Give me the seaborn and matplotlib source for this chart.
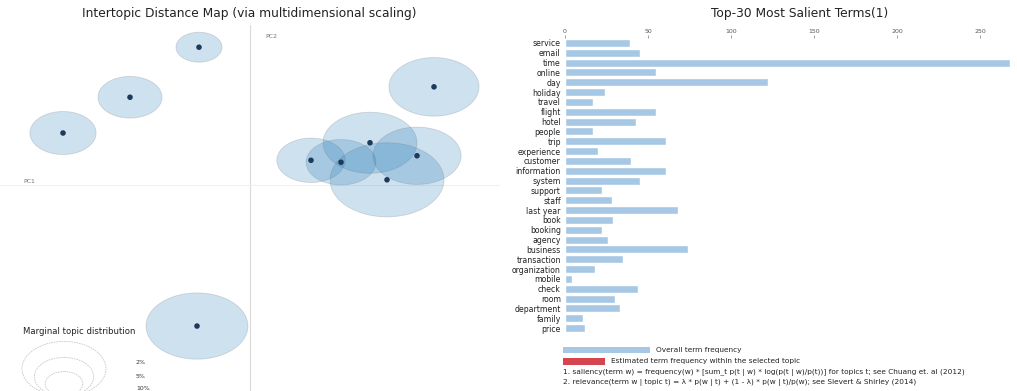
import numpy as np
import pandas as pd
import seaborn as sns
import matplotlib
matplotlib.use("Agg")
import matplotlib.pyplot as plt
from matplotlib.path import Path
from matplotlib.patches import Ellipse, Rectangle

# ---------------- data ----------------
topic_ids = [1, 2, 3, 4, 5, 6, 7, 8, 9, 10]
topic_pc1 = [-0.051, -0.120, -0.187, 0.184, 0.061, 0.091, 0.120, 0.167, 0.137, -0.053]
topic_pc2 = [0.212, 0.135, 0.080, 0.151, 0.038, 0.035, 0.065, 0.045, 0.008, -0.217]
topic_share = [3.0, 5.8, 6.2, 11.5, 6.6, 6.9, 12.5, 11.0, 18.4, 14.7]  # % of tokens

terms = ["service", "email", "time", "online", "day", "holiday", "travel", "flight",
         "hotel", "people", "trip", "experience", "customer", "information", "system",
         "support", "staff", "last year", "book", "booking", "agency", "business",
         "transaction", "organization", "mobile", "check", "room", "department",
         "family", "price"]
term_freq = [39, 45, 268, 55, 122, 24, 17, 55, 43, 17, 61, 20, 40, 61, 45,
             22, 28, 68, 29, 22, 26, 74, 35, 18, 4, 44, 30, 33, 11, 12]
freq_ticks = [0, 50, 100, 150, 200, 250]
legend_shares = [2, 5, 10]

left_title = "Intertopic Distance Map (via multidimensional scaling)"
right_title = "Top-30 Most Salient Terms(1)"
legend_title = "Marginal topic distribution"
bar_legend = ["Overall term frequency", "Estimated term frequency within the selected topic"]
footnotes = [
    "1. saliency(term w) = frequency(w) * [sum_t p(t | w) * log(p(t | w)/p(t))] for topics t; see Chuang et. al (2012)",
    "2. relevance(term w | topic t) = \u03bb * p(w | t) + (1 - \u03bb) * p(w | t)/p(w); see Sievert & Shirley (2014)",
]

# ---------------- figure ----------------
W, H = 1017, 391
sns.set_theme(style="white")
plt.rcParams["font.family"] = ["DejaVu Sans"]
fig = plt.figure(figsize=(W / 100, H / 100), dpi=100)


def fx(px):
    return px / W


def fy(py):
    return 1 - py / H


# ---- left panel: intertopic distance map ----
ax1 = fig.add_axes([0, 0, fx(500), (H - 25) / H])
ax1.set_xlim(-0.25, 0.25)
ax1.set_ylim((185 - 391) / 650, (185 - 25) / 650)
ax1.axvline(0, color="#d9d9d9", lw=0.8, zorder=0)
ax1.axhline(0, color="#f0f0f0", lw=0.8, zorder=0)

t = np.linspace(0, 2 * np.pi, 120)
ell_marker = Path(np.column_stack([np.cos(t), 0.65 * np.sin(t)]), closed=True)

topics = pd.DataFrame({"topic": topic_ids, "PC1": topic_pc1, "PC2": topic_pc2,
                       "share": topic_share})
sns.scatterplot(data=topics, x="PC1", y="PC2", size="share", sizes=(0, 7320),
                size_norm=(0, 20), marker=ell_marker,
                facecolor=(0.12, 0.47, 0.71, 0.22), edgecolor=(0.45, 0.45, 0.5, 0.25),
                linewidth=0.6, legend=False, ax=ax1, zorder=2)
sns.scatterplot(data=topics, x="PC1", y="PC2", s=16, color="#1d3a5c",
                edgecolor="none", legend=False, ax=ax1, zorder=3)
ax1.text(-0.227, 0.006, "PC1", fontsize=4.5, color="#777777", va="center")
ax1.text(0.015, 0.229, "PC2", fontsize=4.5, color="#777777", va="center")
ax1.set_xlabel("")
ax1.set_ylabel("")
ax1.set_xticks([])
ax1.set_yticks([])
for s in ax1.spines.values():
    s.set_visible(False)
ax1.patch.set_alpha(0)

fig.text(fx(249), fy(13), left_title, fontsize=8.8, ha="center", va="center", color="#222222")

# topic-size legend (decoration in pixel coords)
leg = fig.add_axes([0, 0, fx(170), 70 / H])
leg.set_xlim(0, 170)
leg.set_ylim(391, 321)
leg.axis("off")
leg.patch.set_alpha(0)
base_y = 396
for share, lab_y in zip(legend_shares, [362, 376, 389]):
    rx = 42 * np.sqrt(share / 10)
    ry = 0.65 * rx
    leg.add_patch(Ellipse((64, base_y - ry), 2 * rx, 2 * ry, fill=False,
                          edgecolor="#c8c8c8", lw=0.6, ls=(0, (2, 1))))
    leg.text(136, lab_y, f"{share}%", fontsize=4.5, color="#333333", va="center")
leg.text(79, 331, legend_title, fontsize=6.1, color="#222222", ha="center", va="center")

# ---- right panel: salient terms ----
ax2 = fig.add_axes([fx(565), (H - 333) / H, fx(447), 295 / H])
bars = pd.DataFrame({"term": terms, "freq": term_freq})
sns.barplot(data=bars, x="freq", y="term", orient="h", color="#a6c8e4",
            saturation=1, width=0.8, ax=ax2)
ax2.set_xlim(0, 269)
ax2.xaxis.tick_top()
ax2.set_xticks(freq_ticks)
ax2.set_xticklabels([str(v) for v in freq_ticks])
ax2.tick_params(axis="x", labelsize=4.5, colors="#555555", length=2, width=0.4, pad=1)
ax2.tick_params(axis="y", labelsize=5.6, colors="#222222", length=0, pad=3)
ax2.set_xlabel("")
ax2.set_ylabel("")
for s in ax2.spines.values():
    s.set_visible(False)
ax2.patch.set_alpha(0)

fig.text(fx(800), fy(13), right_title, fontsize=8.8, ha="center", va="center", color="#222222")

fig.add_artist(Rectangle((fx(563), fy(353)), fx(87), 6 / H, transform=fig.transFigure,
                         facecolor="#a6c8e4", edgecolor="none"))
fig.add_artist(Rectangle((fx(563), fy(365)), fx(42), 7 / H, transform=fig.transFigure,
                         facecolor="#d6444f", edgecolor="none"))
fig.text(fx(656), fy(350), bar_legend[0], fontsize=5.3, va="center", color="#222222")
fig.text(fx(611), fy(361.5), bar_legend[1], fontsize=5.3, va="center", color="#222222")
fig.text(fx(563), fy(372), footnotes[0], fontsize=5.3, va="center", color="#222222")
fig.text(fx(563), fy(382), footnotes[1], fontsize=5.3, va="center", color="#222222")

fig.savefig("out.png", dpi=100)
